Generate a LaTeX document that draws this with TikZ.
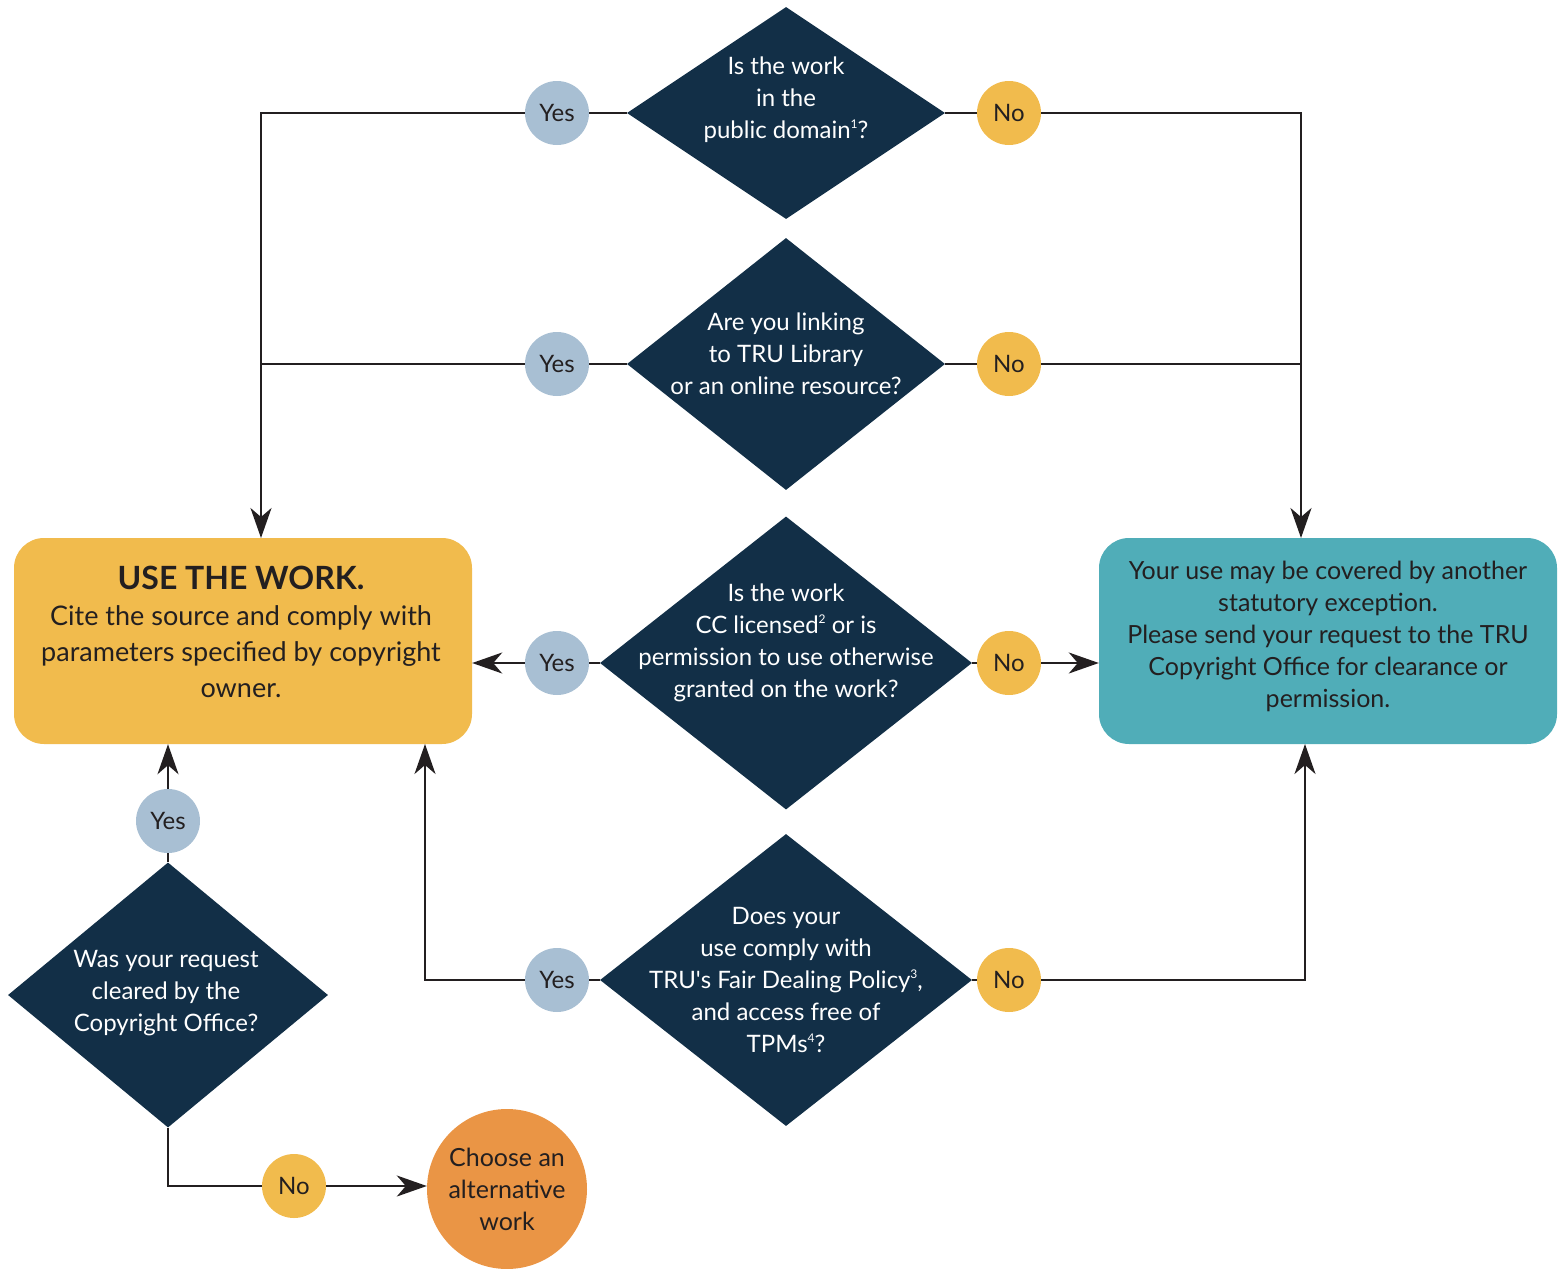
\documentclass[tikz,border=0pt]{standalone}
\usepackage{fontspec}
\setmainfont{Lato}
\usepackage{xcolor}
\usepackage{tikz}
\usetikzlibrary{positioning, arrows.meta, shapes}

\definecolor{navy}{HTML}{122F47}
\definecolor{ink}{HTML}{231F20}
\definecolor{yesblue}{HTML}{A8BFD3}
\definecolor{gold}{HTML}{F1BB4D}
\definecolor{teal}{HTML}{50ADB8}
\definecolor{orange}{HTML}{EA9545}

\newcommand{\fnmark}[1]{\raisebox{0.42em}{\fontsize{12}{12}\selectfont #1}}

\begin{document}
\begin{tikzpicture}[x=1pt, y=-1pt,
    question/.style={diamond, fill=navy, inner sep=0pt},
    qtext/.style={text=white, align=center, font=\fontsize{24}{32}\selectfont},
    dot/.style={circle, minimum size=64pt, inner sep=0pt, text=ink, font=\fontsize{24}{28}\selectfont},
    yesdot/.style={dot, fill=yesblue},
    nodot/.style={dot, fill=gold},
    result/.style={rectangle, rounded corners=30pt, minimum width=458pt, minimum height=206pt, inner sep=0pt},
    rtext/.style={text=ink, align=center},
    link/.style={ink, line width=2pt},
    arr/.style={link, -{Stealth[length=30pt, width=21pt, inset=9pt]}}]
        \useasboundingbox (0,0) rectangle (1564,1269);

        % Questions
        \node[question, minimum width=318pt, minimum height=212pt] (q1) at (786,113) {};
        \node[question, minimum width=318pt, minimum height=252pt] (q2) at (786,364) {};
        \node[question, minimum width=372pt, minimum height=293pt] (q3) at (786,663) {};
        \node[question, minimum width=372pt, minimum height=292pt] (q4) at (786,980) {};
        \node[question, minimum width=320pt, minimum height=265pt] (q5) at (168,995) {};

        \node[qtext] (q1t) at (786,100) {Is the work\\in the\\public domain\fnmark{1}?};
        \node[qtext] (q2t) at (786,354) {Are you linking\\to TRU Library\\or an online resource?};
        \node[qtext] (q3t) at (786,643) {Is the work\\CC licensed\fnmark{2} or is\\permission to use otherwise\\granted on the work?};
        \node[qtext] (q4t) at (786,980) {Does your\\use comply with\\TRU\textquotesingle s Fair Dealing Policy\fnmark{3},\\and access free of\\TPMs\fnmark{4}?};
        \node[qtext] (q5t) at (166,993) {Was your request\\cleared by the\\Copyright Office?};

        % Outcomes
        \node[result, fill=gold] (use) at (243,641) {};
        \node[rtext, font=\fontsize{27}{36}\selectfont] (uset) at (241,632)
            {\fontsize{32}{36}\selectfont\bfseries USE THE WORK.\\\fontsize{27}{36}\selectfont\mdseries Cite the source and comply with\\parameters specified by copyright\\owner.};
        \node[result, fill=teal] (other) at (1328,641) {};
        \node[rtext, font=\fontsize{25}{32}\selectfont] (othert) at (1328,636)
            {Your use may be covered by another\\statutory exception.\\Please send your request to the TRU\\Copyright Office for clearance or\\permission.};
        \node[circle, fill=orange, minimum size=160pt, inner sep=0pt, text=ink, align=center,
              font=\fontsize{25}{32}\selectfont] (alt) at (507,1189) {Choose an\\alternative\\work};

        % Answers
        \node[yesdot] (y1) at (557,113) {Yes};
        \node[yesdot] (y2) at (557,364) {Yes};
        \node[yesdot] (y3) at (557,663) {Yes};
        \node[yesdot] (y4) at (557,980) {Yes};
        \node[yesdot] (y5) at (168,821) {Yes};
        \node[nodot] (n1) at (1009,113) {No};
        \node[nodot] (n2) at (1009,364) {No};
        \node[nodot] (n3) at (1009,663) {No};
        \node[nodot] (n4) at (1009,980) {No};
        \node[nodot] (n5) at (294,1186) {No};

        % Corners of the connectors
        \coordinate (ytop) at (261,113);
        \coordinate (ymid) at (261,364);
        \coordinate (yin) at (261,538);
        \coordinate (ntop) at (1301,113);
        \coordinate (nmid) at (1301,364);
        \coordinate (nin) at (1301,538);
        \coordinate (ybot) at (425,980);
        \coordinate (ybin) at (425,744);
        \coordinate (nbot) at (1305,980);
        \coordinate (nbin) at (1305,744);
        \coordinate (qlow) at (165,1186);

        % Yes side
        \draw[link] (q1.west) -- (y1);
        \draw[arr] (y1) -- (ytop) -- (yin);
        \draw[link] (q2.west) -- (y2);
        \draw[link] (y2) -- (ymid);
        \draw[link] (q3.west) -- (y3);
        \draw[arr] (y3) -- (use.east |- y3);
        \draw[link] (q4.west) -- (y4);
        \draw[arr] (y4) -- (ybot) -- (ybin);
        \draw[link] (q5.north) -- (y5);
        \draw[arr] (y5) -- (use.south -| y5);

        % No side
        \draw[link] (q1.east) -- (n1);
        \draw[arr] (n1) -- (ntop) -- (nin);
        \draw[link] (q2.east) -- (n2);
        \draw[link] (n2) -- (nmid);
        \draw[link] (q3.east) -- (n3);
        \draw[arr] (n3) -- (other.west |- n3);
        \draw[link] (q4.east) -- (n4);
        \draw[arr] (n4) -- (nbot) -- (nbin);
        \draw[link] (q5.south) -- (q5.south |- qlow) -- (n5);
        \draw[arr] (n5) -- (alt.west |- n5);
    \end{tikzpicture}
\end{document}
